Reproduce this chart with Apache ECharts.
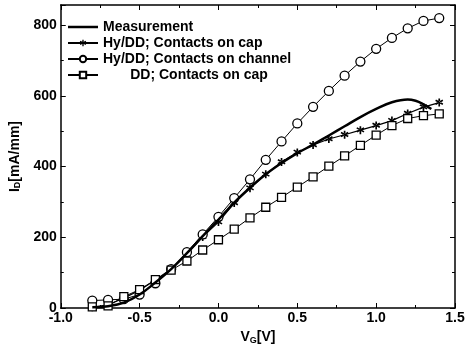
<!DOCTYPE html>
<html>
<head>
<meta charset="utf-8">
<script src="https://cdn.jsdelivr.net/npm/echarts@6/dist/echarts.min.js"></script>
<style>
html, body { margin: 0; padding: 0; background: #fff; }
#main { width: 469px; height: 350px; }
</style>
</head>
<body>
<div id="main"></div>
<script>
// gate voltage of the simulated points
var vg = [-0.8, -0.7, -0.6, -0.5, -0.4, -0.3, -0.2, -0.1, 0.0, 0.1, 0.2, 0.3,
          0.4, 0.5, 0.6, 0.7, 0.8, 0.9, 1.0, 1.1, 1.2, 1.3, 1.4];
var hyCap = [2, 9, 28, 50, 79, 110, 153, 201, 243, 297, 339, 378,
             413, 440, 461, 478, 490, 503, 516, 530, 550, 568, 581];
var hyChannel = [21, 23, 25, 38, 70, 110, 158, 208, 258, 311, 364, 419,
                 471, 522, 569, 614, 657, 697, 733, 764, 791, 812, 820];
var ddCap = [3, 6, 32, 52, 80, 107, 133, 164, 193, 223, 255, 285,
             313, 342, 371, 401, 430, 460, 489, 516, 536, 544, 549];
// measured curve
var measV = [-0.8, -0.7, -0.6, -0.5, -0.4, -0.3, -0.2, -0.1, 0.0, 0.1, 0.2, 0.3,
             0.4, 0.5, 0.6, 0.7, 0.8, 0.9, 1.0, 1.1, 1.2, 1.25, 1.3, 1.35];
var measI = [2, 5, 15, 38, 72, 110, 155, 203, 250, 298, 340, 378,
             410, 438, 462, 488, 514, 540, 563, 582, 590, 586, 576, 563];

var names = ['Measurement', 'Hy/DD; Contacts on cap', 'Hy/DD; Contacts on channel', 'DD; Contacts on cap'];
var xTicks = [-1.0, -0.5, 0.0, 0.5, 1.0, 1.5];
var yTicks = [0, 200, 400, 600, 800];

// asterisk marker
var starPath = 'path://M4,0h2v10h-2z M1.1,1.3L9.8,6.3L8.9,8L0.2,3z M8.9,1.3L0.2,6.3L1.1,8L9.8,3z';

function pairs(xs, ys) {
    return xs.map(function (x, i) { return [x, ys[i]]; });
}

var font = 'Liberation Sans, Arial, sans-serif';
var black = '#000';

function frameAxis(extra) {
    var a = {
        type: 'value',
        axisLine: { show: true, onZero: false, lineStyle: { color: black, width: 1.5 } },
        axisTick: { show: true, inside: true, length: 5, lineStyle: { color: black } },
        minorTick: { show: true, splitNumber: 2, length: 3, lineStyle: { color: black } },
        splitLine: { show: false },
        axisLabel: { show: false }
    };
    for (var k in extra) a[k] = extra[k];
    return a;
}

var nameRich = {
    i: { fontFamily: font, fontSize: 14, fontWeight: 'bold', color: black },
    s: { fontFamily: font, fontSize: 9, fontWeight: 'bold', color: black, verticalAlign: 'bottom', padding: [6, 0, 0, 0] }
};

var myChart = echarts.init(document.getElementById('main'));
var option = {
    animation: false,
    backgroundColor: '#fff',
    grid: { left: 54, right: 14, top: 5, bottom: 37 },
    legend: {
        orient: 'vertical',
        left: 62,
        top: 15,
        itemGap: 2,
        itemWidth: 30,
        itemHeight: 8,
        data: [{ name: names[0], icon: 'path://M0,3h30v2.5h-30z' }, names[1], names[2], names[3]],
        textStyle: { fontFamily: font, fontSize: 14, fontWeight: 'bold', color: black, padding: [0, 0, 0, 0] },
        formatter: function (n) {
            return n === names[3] ? '       ' + n : n;
        }
    },
    xAxis: [frameAxis({
        min: -1.0, max: 1.5, interval: 0.5,
        name: '{i|V}{s|G}{i|[V]}',
        nameLocation: 'middle',
        nameGap: 22,
        nameTextStyle: { rich: nameRich },
        axisLabel: {
            margin: 3,
            fontFamily: font, fontSize: 14, fontWeight: 'bold', color: black,
            formatter: function (v) { return xTicks.indexOf(v) >= 0 ? v.toFixed(1) : ''; }
        }
    }), frameAxis({
        position: 'top',
        min: -1.0, max: 1.5, interval: 0.5
    })],
    yAxis: [frameAxis({
        min: 0, max: 857, interval: 200,
        name: '{i|I}{s|D}{i|[mA/mm]}',
        nameLocation: 'middle',
        nameGap: 31,
        nameTextStyle: { rich: nameRich },
        axisLabel: {
            margin: 4,
            fontFamily: font, fontSize: 14, fontWeight: 'bold', color: black,
            showMaxLabel: false,
            formatter: function (v) { return yTicks.indexOf(v) >= 0 ? String(v) : ''; }
        }
    }), frameAxis({
        position: 'right',
        min: 0, max: 857, interval: 200
    })],
    series: [{
        name: names[0],
        type: 'line',
        data: pairs(measV, measI),
        smooth: 0.4,
        symbol: 'none',
        color: black,
        lineStyle: { color: black, width: 2.5 },
        z: 5
    }, {
        name: names[1],
        type: 'line',
        data: pairs(vg, hyCap),
        symbol: starPath,
        symbolSize: 8,
        color: black,
        itemStyle: { color: black },
        lineStyle: { color: black, width: 1.2 }
    }, {
        name: names[2],
        type: 'line',
        data: pairs(vg, hyChannel),
        symbol: 'circle',
        symbolSize: 9,
        color: black,
        itemStyle: { color: '#fff', borderColor: black, borderWidth: 1.3 },
        lineStyle: { color: black, width: 1 }
    }, {
        name: names[3],
        type: 'line',
        data: pairs(vg, ddCap),
        symbol: 'rect',
        symbolSize: 8,
        color: black,
        itemStyle: { color: '#fff', borderColor: black, borderWidth: 1.3 },
        lineStyle: { color: black, width: 1 }
    }]
};
myChart.setOption(option);
</script>
</body>
</html>
